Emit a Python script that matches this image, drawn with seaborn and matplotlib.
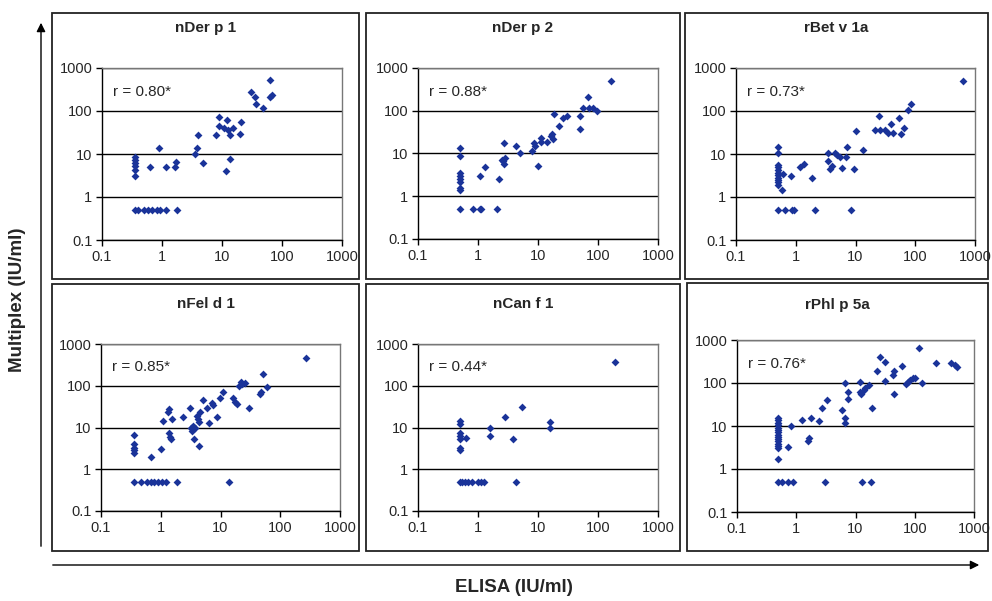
import pandas as pd
import matplotlib.pyplot as plt
import seaborn as sns
from matplotlib.patches import Rectangle, FancyArrowPatch

sns.set_style('white')
plt.rcParams['font.family'] = ['Liberation Sans', 'DejaVu Sans']

#data
panels = ['nDer p 1', 'nDer p 2', 'rBet v 1a', 'nFel d 1', 'nCan f 1', 'rPhl p 5a']
r_labels = ['r = 0.80*', 'r = 0.88*', 'r = 0.73*', 'r = 0.85*', 'r = 0.44*', 'r = 0.76*']

derp1_x = [0.35, 0.35, 0.35, 0.35, 0.35, 0.35, 0.63, 0.89, 1.15, 1.7, 1.65,
           0.35, 0.40, 0.50, 0.59, 0.69, 0.81, 0.92, 1.15, 1.8,
           3.5, 3.9, 4.0, 4.9, 7.9, 9.0, 9.0, 11, 12, 12.4, 11.6, 13.5, 13.5, 15.5, 20, 20.8,
           30.6, 35, 37, 48, 63, 62, 68]
derp1_y = [8.5, 7.4, 6.2, 5.2, 4.3, 3.1, 5.0, 14, 5.0, 6.5, 4.9,
           0.5, 0.5, 0.5, 0.5, 0.5, 0.5, 0.5, 0.5, 0.5,
           10.2, 14, 28, 6.2, 27, 72, 44, 40, 63, 37, 4.0, 7.7, 28, 40, 29, 56,
           282, 212, 148, 120, 516, 212, 240]

derp2_x = [0.51, 0.51, 0.51, 0.51, 0.51, 0.51, 0.51, 0.51, 0.51,
           0.83, 1.07, 1.14, 1.07, 1.3, 2.05, 2.2, 2.5, 2.6, 2.75, 2.75, 2.8,
           4.25, 5.0, 7.9, 8.7, 9.0, 10, 11.1, 11.1, 14, 16.4, 17, 17.6, 18.6,
           22.7, 26.4, 31, 51, 51, 57, 68, 70, 84, 96, 165]
derp2_y = [13.4, 8.6, 3.5, 3.0, 2.5, 2.1, 1.55, 1.4, 0.5,
           0.5, 0.5, 0.5, 2.9, 4.8, 0.5, 2.6, 7.2, 6.6, 5.8, 17.6, 7.9,
           15, 10, 11.7, 17.6, 15, 5, 19, 23, 19, 25, 29, 22, 84,
           43, 68, 77, 77, 37, 116, 206, 116, 116, 100, 488]

betv1_x = [0.5, 0.5, 0.5, 0.5, 0.5, 0.5, 0.5, 0.5, 0.5, 0.5, 0.5, 0.5,
           0.59, 0.61, 0.65, 0.84, 0.88, 0.93, 1.17, 1.36, 1.87, 2.1,
           3.4, 3.4, 3.7, 3.97, 4.5, 4.9, 5.5, 6.0, 6.9, 7.3, 8.4, 9.5, 10, 13.4,
           21, 25, 26, 31, 35.6, 40, 43, 54, 57, 66, 75, 86, 627]
betv1_y = [14.4, 10.4, 5.6, 5.0, 4.3, 3.7, 3.3, 2.8, 2.5, 2.2, 1.9, 0.5,
           1.46, 3.4, 0.5, 3.0, 0.5, 0.5, 4.9, 5.8, 2.7, 0.5,
           10.4, 7.0, 4.5, 5.4, 10.4, 9.4, 8.7, 4.7, 8.7, 14.4, 0.5, 4.5, 35, 12.5,
           36, 75, 36, 36, 30, 50, 30, 68, 29, 40, 103, 145, 507]

feld1_x = [0.36, 0.36, 0.36, 0.36, 0.36, 0.70,
           0.36, 0.46, 0.58, 0.68, 0.78, 0.89, 1.03, 1.22, 1.84, 13.8,
           1.0, 1.1, 1.3, 1.37, 1.37, 1.42, 1.48, 1.57, 2.4, 3.1, 3.15, 3.3, 3.5,
           3.6, 3.8, 4.0, 4.15, 4.4, 4.4, 4.5, 5.0, 6.0, 6.5, 7.1, 7.6, 8.8, 9.8,
           11.2, 16.4, 17.5, 18.7, 20.3, 21.7, 23, 25.6, 29.8, 45.6, 47, 52, 60, 265]
feld1_y = [6.7, 4.0, 3.3, 2.9, 2.5, 2.0,
           0.5, 0.5, 0.5, 0.5, 0.5, 0.5, 0.5, 0.5, 0.5, 0.5,
           3.0, 14.5, 23, 27, 7.2, 6.0, 5.2, 15.8, 17.4, 30, 9.6, 8.3, 11,
           5.2, 10, 19, 16, 13.7, 3.6, 23, 46, 29, 12.7, 38, 34, 18, 52,
           72, 50, 41, 36, 96, 120, 110, 116, 28.6, 63, 69, 190, 95, 453]

canf1_x = [0.5, 0.5, 0.5, 0.5, 0.5, 0.5, 0.5, 0.63,
           0.5, 0.55, 0.6, 0.68, 0.8, 1.0, 1.13, 1.26, 4.3,
           1.58, 1.58, 2.8, 3.8, 5.5, 15.6, 16.0, 190]
canf1_y = [14.2, 12.3, 7.4, 6.4, 5.4, 3.2, 2.9, 5.6,
           0.5, 0.5, 0.5, 0.5, 0.5, 0.5, 0.5, 0.5, 0.5,
           10, 6.4, 18, 5.2, 31.5, 13.5, 10, 375]

phlp5_x = [0.5, 0.5, 0.5, 0.5, 0.5, 0.5, 0.5, 0.5, 0.5, 0.5, 0.5, 0.5, 0.5, 0.5, 0.5, 0.5,
           0.58, 0.73, 0.73, 0.83, 0.89, 1.26, 1.6, 1.66, 1.8, 2.4, 2.7, 3.0, 3.35,
           6.0, 6.6, 6.6, 6.6, 7.6, 7.6, 12, 12, 12.3, 13.1, 13.7, 14.6, 17, 18.2, 18.8,
           23, 25.5, 31.7, 31.7, 43, 44, 44, 61, 72, 77, 84, 93, 100, 120, 133,
           224, 403, 470, 515]
phlp5_y = [15.5, 13.6, 12.0, 10.4, 9.1, 8.0, 7.1, 6.3, 5.6, 4.9, 4.4, 3.9, 3.4, 3.0, 1.75, 0.5,
           0.5, 3.2, 0.5, 10, 0.5, 13.6, 4.4, 5.3, 15.5, 12.8, 25.6, 0.5, 40,
           24, 101, 15, 11.7, 62, 42, 107, 62, 55, 0.5, 68, 75, 89, 0.5, 26,
           190, 410, 313, 110, 153, 190, 55, 248, 93, 107, 117, 128, 133, 662, 100,
           286, 286, 262, 240]

xs = [derp1_x, derp2_x, betv1_x, feld1_x, canf1_x, phlp5_x]
ys = [derp1_y, derp2_y, betv1_y, feld1_y, canf1_y, phlp5_y]
df = pd.concat([pd.DataFrame({'panel': p, 'elisa': x, 'multiplex': y})
                for p, x, y in zip(panels, xs, ys)], ignore_index=True)

#layout in pixels of the 992x601 picture
W, H = 992, 601
boxes = [(52, 13, 359, 279), (366, 13, 680, 279), (685, 13, 988, 279),
         (52, 284, 359, 551), (366, 284, 680, 551), (687, 283, 988, 551)]
plots = [(102, 68, 342, 240), (418, 68, 658, 239), (736, 68, 975, 240),
         (101, 344, 340, 511), (418, 344, 658, 511), (737, 340, 974, 512)]
title_y = [28, 28, 28, 304, 304, 305]

fig = plt.figure(figsize=(9.92, 6.01), dpi=100)

for i, name in enumerate(panels):
    bx0, by0, bx1, by1 = boxes[i]
    fig.add_artist(Rectangle((bx0 / W, 1 - by1 / H), (bx1 - bx0) / W, (by1 - by0) / H,
                             transform=fig.transFigure, fill=False, ec='#222222', lw=1.3))
    fig.text((bx0 + bx1) / 2 / W, 1 - title_y[i] / H, name, ha='center', va='center',
             fontsize=11, fontweight='bold')

    x0, y0, x1, y1 = plots[i]
    ax = fig.add_axes([x0 / W, 1 - y1 / H, (x1 - x0) / W, (y1 - y0) / H])
    sns.scatterplot(data=df[df['panel'] == name], x='elisa', y='multiplex', ax=ax,
                    marker='D', s=16, color='#1a3399', linewidth=0, zorder=3)
    ax.set_xscale('log')
    ax.set_yscale('log')
    ax.set_xlim(0.1, 1000)
    ax.set_ylim(0.1, 1000)
    ticks = [0.1, 1, 10, 100, 1000]
    labels = ['0.1', '1', '10', '100', '1000']
    ax.set_xticks(ticks)
    ax.set_xticklabels(labels)
    ax.set_yticks(ticks)
    ax.set_yticklabels(labels)
    ax.minorticks_off()
    ax.tick_params(direction='out', length=4, width=1, color='black', labelsize=10.5, pad=3,
                   left=True, bottom=True)
    ax.yaxis.grid(True, color='black', lw=1)
    ax.xaxis.grid(False)
    ax.set_axisbelow(True)
    for s in ['left', 'bottom']:
        ax.spines[s].set_color('black')
        ax.spines[s].set_linewidth(1)
    for s in ['top', 'right']:
        ax.spines[s].set_color('#777777')
        ax.spines[s].set_linewidth(1)
    ax.set_xlabel('')
    ax.set_ylabel('')
    ax.text(0.045, 0.86, r_labels[i], transform=ax.transAxes, fontsize=11, va='center')

#big axes arrows
fig.add_artist(FancyArrowPatch((41 / W, 1 - 549 / H), (41 / W, 1 - 20 / H), transform=fig.transFigure,
                               arrowstyle='-|>', mutation_scale=13, color='black', lw=1))
fig.add_artist(FancyArrowPatch((50 / W, 1 - 565 / H), (982 / W, 1 - 565 / H), transform=fig.transFigure,
                               arrowstyle='-|>', mutation_scale=13, color='black', lw=1))
fig.text(18 / W, 1 - 300 / H, 'Multiplex (IU/ml)', rotation=90, ha='center', va='center',
         fontsize=13.5, fontweight='bold')
fig.text(514 / W, 1 - 588 / H, 'ELISA (IU/ml)', ha='center', va='center',
         fontsize=13.5, fontweight='bold')

plt.savefig('out.png', dpi=100)
